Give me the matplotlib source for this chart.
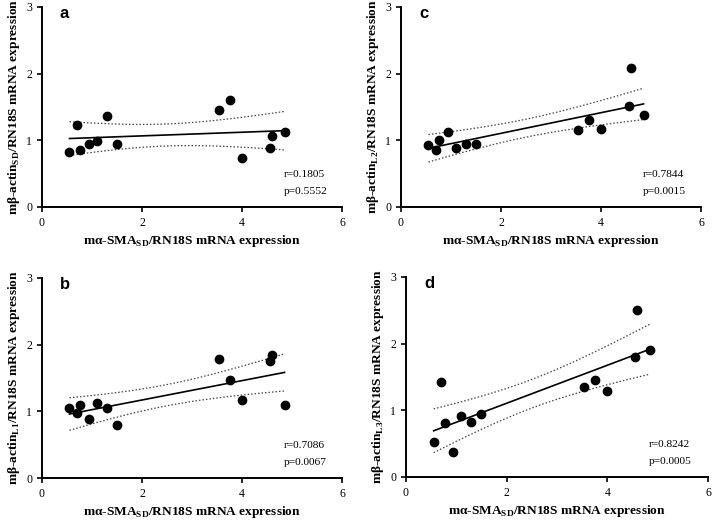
import numpy as np
import matplotlib
matplotlib.use('Agg')
import matplotlib.pyplot as plt

# x: mα-SMA_SD / RN18S (same samples in every panel)
sma_sd = [0.55, 0.70, 0.77, 0.94, 1.10, 1.30, 1.50, 3.54, 3.75, 3.99, 4.55, 4.59, 4.85]

# y: mβ-actin variants / RN18S
actin_sd = [0.82, 1.23, 0.85, 0.95, 0.99, 1.36, 0.95, 1.46, 1.60, 0.74, 0.89, 1.07, 1.12]
actin_l1 = [1.05, 0.98, 1.10, 0.88, 1.13, 1.05, 0.79, 1.79, 1.47, 1.17, 1.75, 1.84, 1.10]
actin_l2 = [0.93, 0.85, 1.01, 1.13, 0.89, 0.95, 0.94, 1.15, 1.31, 1.17, 1.51, 2.09, 1.38]
actin_l3 = [0.53, 1.43, 0.81, 0.37, 0.91, 0.83, 0.94, 1.35, 1.45, 1.29, 1.80, 2.51, 1.90]

panel_letters = ['a', 'b', 'c', 'd']
subscripts    = ['SD', 'L1', 'L2', 'L3']
r_vals        = ['0.1805', '0.7086', '0.7844', '0.8242']
p_vals        = ['0.5552', '0.0067', '0.0015', '0.0005']

plt.rcParams['mathtext.fontset'] = 'custom'
plt.rcParams['mathtext.rm'] = 'Liberation Serif:bold'
plt.rcParams['mathtext.bf'] = 'Liberation Serif:bold'

SERIF = 'Liberation Serif'
T975 = 2.201  # t(0.975, df=11)

fig = plt.figure(figsize=(7.13, 5.21), dpi=100)
boxes = {'a': [0.0589, 0.6027, 0.4208, 0.384],
         'c': [0.5624, 0.6027, 0.4208, 0.384],
         'b': [0.0589, 0.0825, 0.4208, 0.384],
         'd': [0.5694, 0.0845, 0.4236, 0.384]}

ys = [actin_sd, actin_l1, actin_l2, actin_l3]

for letter, sub, yv, rv, pv in zip(panel_letters, subscripts, ys, r_vals, p_vals):
    ax = fig.add_axes(boxes[letter])
    x = np.array(sma_sd); y = np.array(yv)
    n = len(x)
    b, a = np.polyfit(x, y, 1)
    xs = np.linspace(x.min(), x.max(), 100)
    yhat = a + b*xs
    resid = y - (a + b*x)
    s = np.sqrt((resid**2).sum()/(n-2))
    sxx = ((x - x.mean())**2).sum()
    se = s*np.sqrt(1.0/n + (xs - x.mean())**2/sxx)
    ax.plot(xs, yhat, color='black', lw=1.2, zorder=2)
    ax.plot(xs, yhat + T975*se, color='#444444', lw=0.9, ls=(0, (1.2, 1.6)), zorder=2)
    ax.plot(xs, yhat - T975*se, color='#444444', lw=0.9, ls=(0, (1.2, 1.6)), zorder=2)
    ax.plot(x, y, 'o', color='black', ms=6.0, zorder=3)

    ax.set_xlim(0, 6); ax.set_ylim(0, 3)
    ax.set_xticks([0, 2, 4, 6]); ax.set_yticks([0, 1, 2, 3])
    for sp in ['top', 'right']:
        ax.spines[sp].set_visible(False)
    for sp in ['left', 'bottom']:
        ax.spines[sp].set_linewidth(1.4)
    ax.tick_params(direction='out', length=3.5, width=1.2, labelsize=8.5)
    for lab in ax.get_xticklabels() + ax.get_yticklabels():
        lab.set_fontfamily(SERIF)

    ax.set_xlabel('mα-SMA$_{\\mathregular{SD}}$/RN18S mRNA expression',
                  family=SERIF, fontweight='bold', fontsize=9.6, labelpad=3)
    ax.set_ylabel('mβ-actin$_{\\mathregular{%s}}$/RN18S mRNA expression' % sub,
                  family=SERIF, fontweight='bold', fontsize=9.6, labelpad=3)

    ax.text(0.36, 2.9, letter, family='Liberation Sans', fontweight='bold',
            fontsize=12, va='center', ha='left')
    ax.text(4.83, 0.49, 'r=' + rv, family=SERIF, fontsize=8.2, va='center')
    ax.text(4.83, 0.235, 'p=' + pv, family=SERIF, fontsize=8.2, va='center')

plt.savefig('out.png', dpi=100)
plt.close()
